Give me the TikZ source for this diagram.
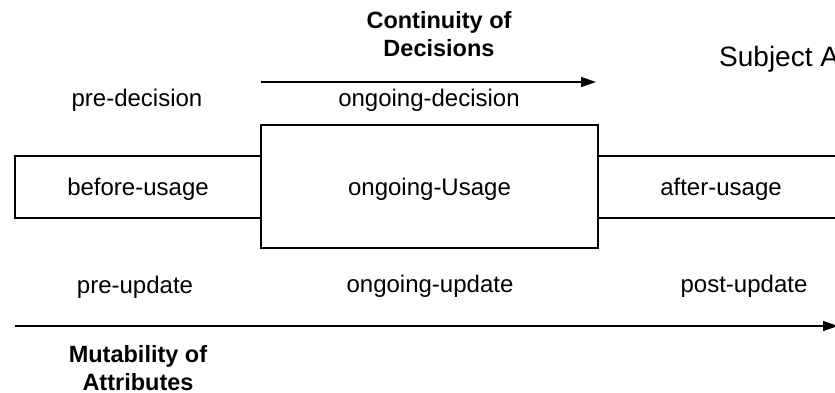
\documentclass[tikz,border=0pt]{standalone}
\usepackage{fontspec}
\setmainfont{Liberation Sans}
\usetikzlibrary{arrows.meta}
\begin{document}
\begin{tikzpicture}[x=1pt,y=-1pt,
    phase/.style={draw,line width=1.3pt,inner sep=0pt,text height=17pt,text depth=0pt,font=\fontsize{24}{28}\selectfont},
    lbl/.style={anchor=base,inner sep=0pt,font=\fontsize{24}{28}\selectfont},
    ttl/.style={anchor=base,inner sep=0pt,align=center,font=\fontsize{23.5}{28}\selectfont\bfseries},
    axis/.style={line width=1.3pt,-{Triangle[length=15pt,width=10pt]}}]
  \useasboundingbox (0,0) rectangle (835,393);
  % usage phases
  \node[phase,minimum width=246pt,minimum height=62pt] (before) at (138,187) {before-usage};
  \node[phase,minimum width=337pt,minimum height=123pt] (usage) at (429.5,186.5) {ongoing-Usage};
  \node[phase,minimum width=246pt,minimum height=62pt] (after) at (721,187) {after-usage};
  % decisions
  \node[ttl] (cont) at (439,56.5) {Continuity of\\Decisions};
  \node[lbl] (predec) at (137,106.5) {pre-decision};
  \node[lbl] (ongdec) at (429,107) {ongoing-decision};
  \node[lbl,anchor=base west,font=\fontsize{28}{34}\selectfont] (subj) at (719,67) {Subject A};
  \coordinate (dstart) at (261,82);
  \coordinate (dend) at (596,82);
  \draw[axis] (dstart) -- (dend);
  % updates
  \node[lbl] (preupd) at (135,293) {pre-update};
  \node[lbl] (ongupd) at (430,292) {ongoing-update};
  \node[lbl] (postupd) at (744,292) {post-update};
  \node[ttl] (mut) at (138,390) {Mutability of\\Attributes};
  \coordinate (mstart) at (15,326);
  \coordinate (mend) at (838,326);
  \draw[axis] (mstart) -- (mend);
\end{tikzpicture}
\end{document}
